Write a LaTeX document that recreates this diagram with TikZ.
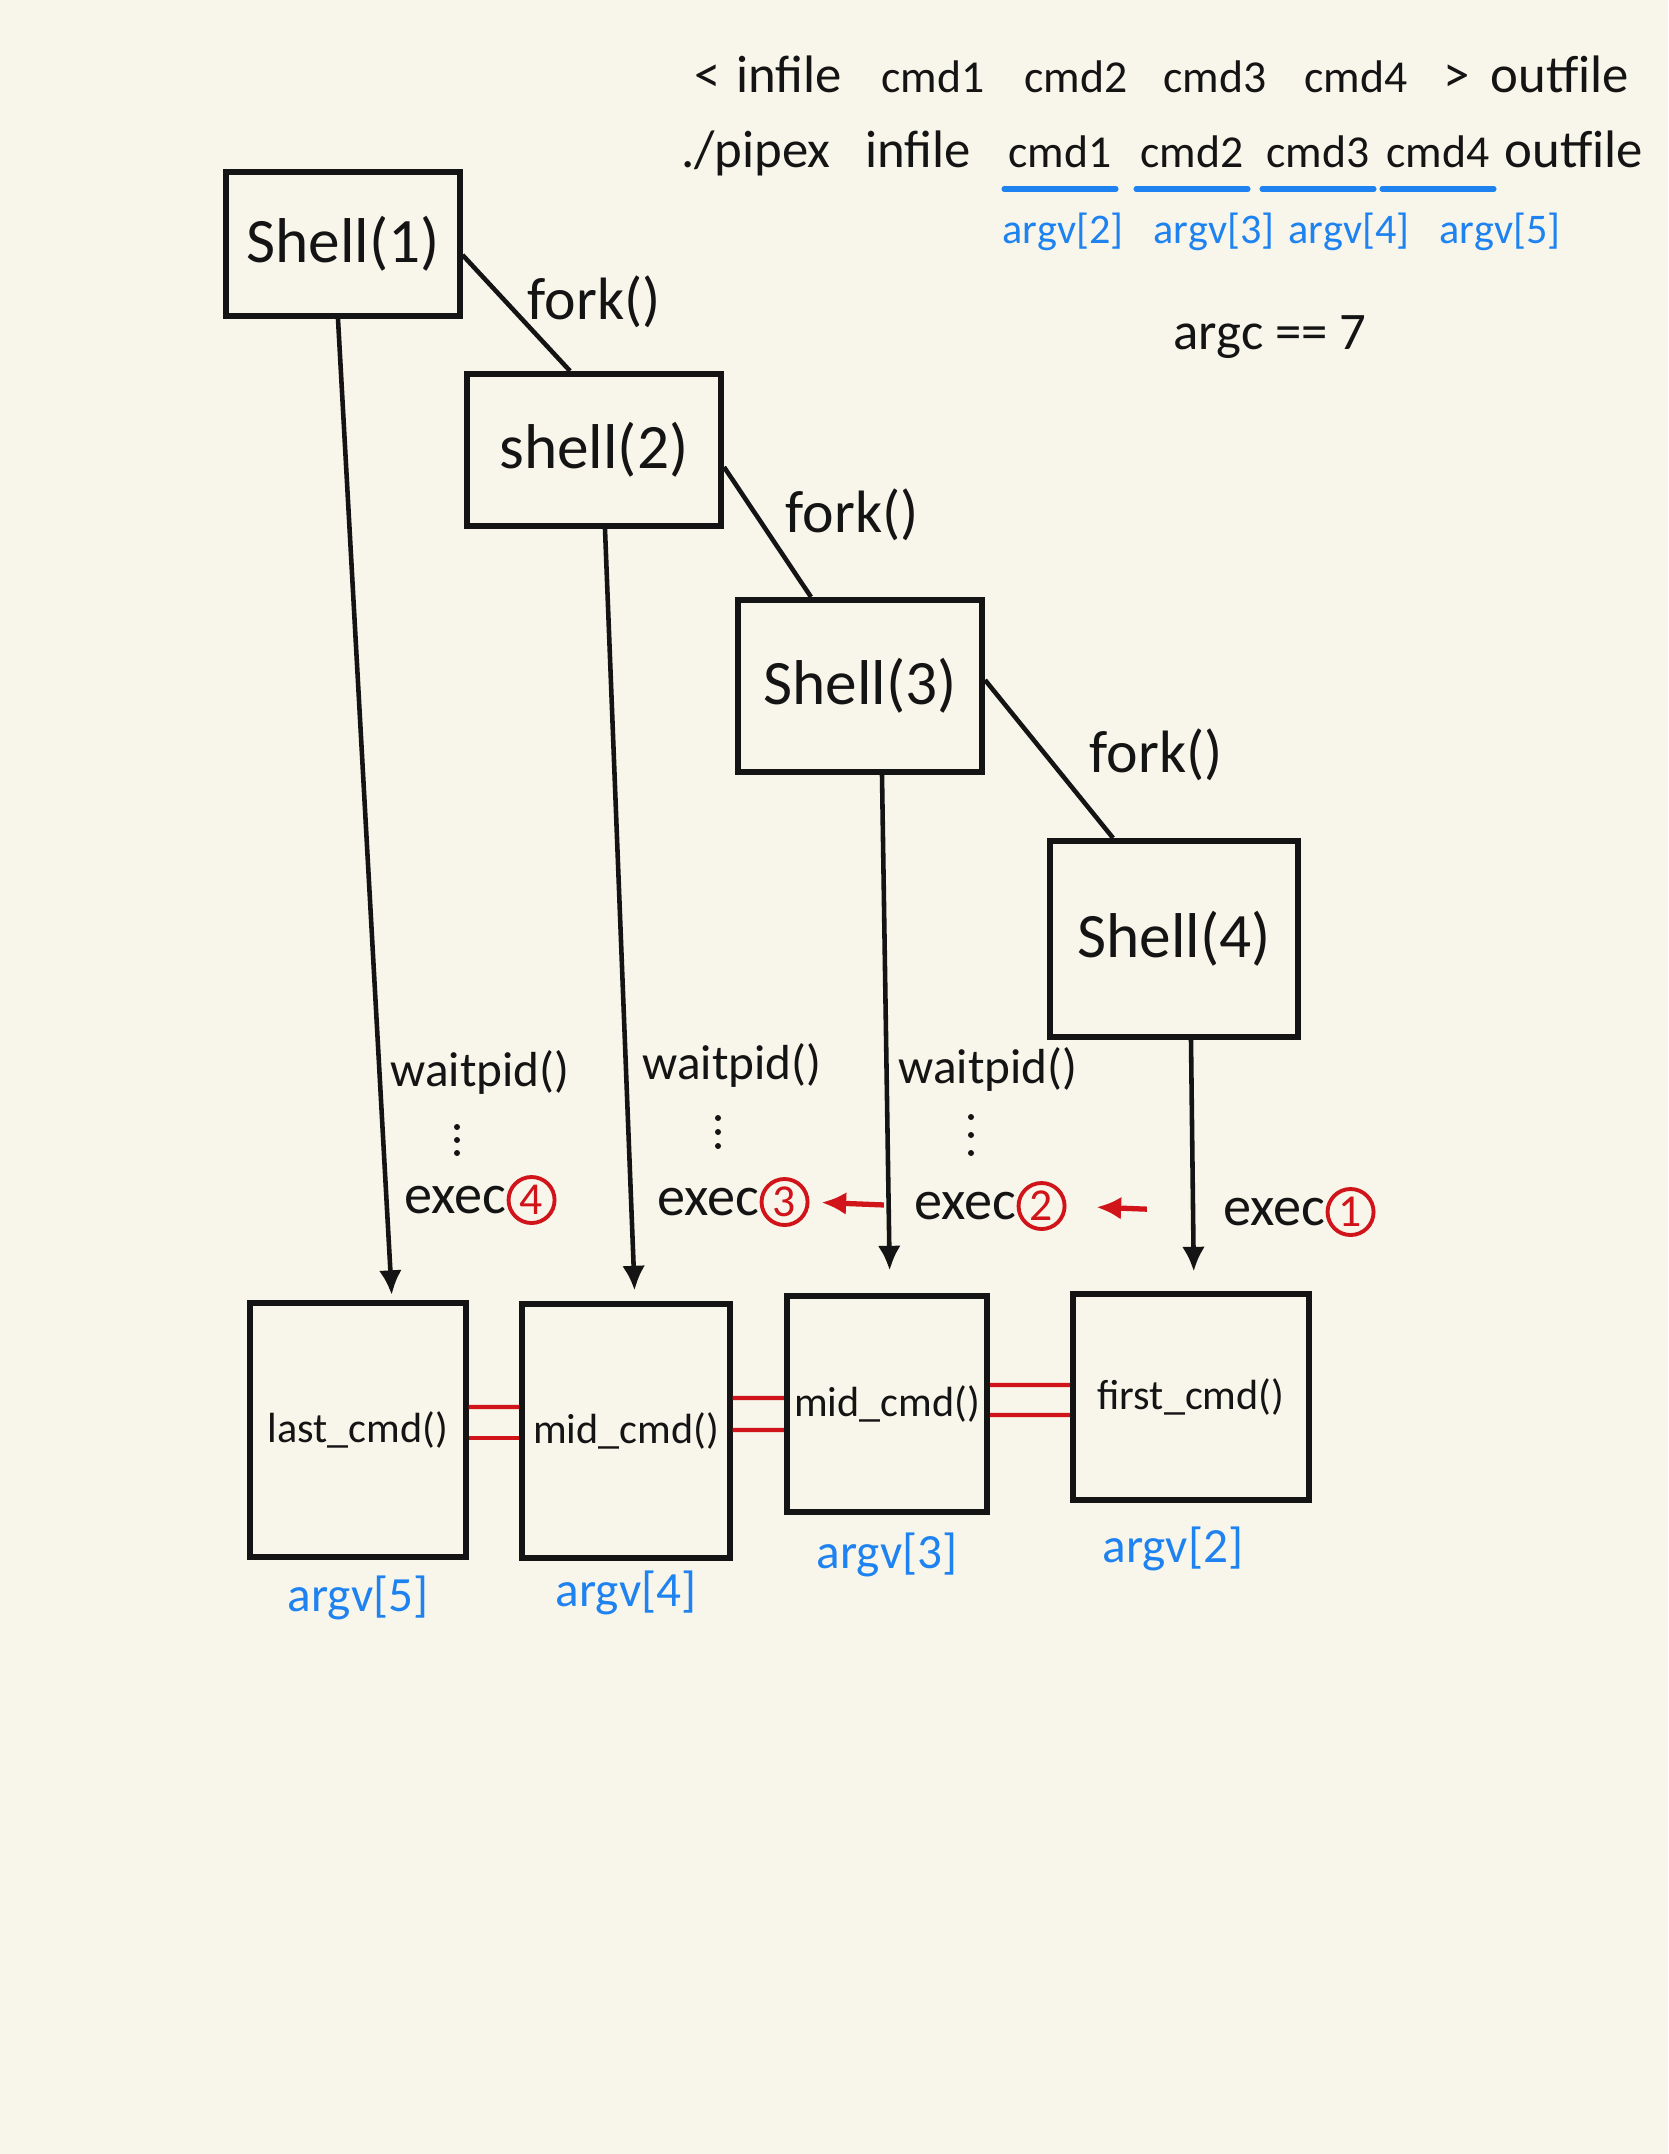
\documentclass[tikz,border=0pt]{standalone}
\usepackage{fontspec}
\setmainfont{Carlito}
\usepackage{tikz}
\usetikzlibrary{arrows.meta,calc,positioning}
\definecolor{bgpaper}{HTML}{F8F6EA}
\definecolor{blackpen}{HTML}{141414}
\definecolor{bluepen}{HTML}{1E82F0}
\definecolor{redpen}{HTML}{D0141A}
\tikzset{
	shellbox/.style={draw=blackpen,line width=1.7pt,text=blackpen,font=\fontsize{18}{20}\selectfont},
	cmdbox/.style={draw=blackpen,line width=1.7pt,text=blackpen,inner sep=0pt,font=\fontsize{12}{14}\selectfont},
	flow/.style={draw=blackpen,line width=1.3pt},
	pipe/.style={draw=redpen,line width=1.2pt},
	word/.style={text=blackpen,anchor=base,inner sep=1pt,font=\fontsize{15}{17}\selectfont},
	cmdword/.style={word,font=\fontsize{13}{15}\selectfont},
	argline/.style={draw=bluepen,line width=1.6pt,line cap=round},
	argword/.style={text=bluepen,inner sep=1pt,font=\fontsize{12}{14}\selectfont},
	arglabel/.style={text=bluepen,inner sep=1pt,font=\fontsize{14}{16}\selectfont},
	forklabel/.style={text=blackpen,font=\fontsize{17}{19}\selectfont},
	waitlabel/.style={text=blackpen,inner sep=1pt,font=\fontsize{14}{16}\selectfont},
	execlabel/.style={text=blackpen,inner sep=1pt,font=\fontsize{16}{18}\selectfont},
	execnum/.style={circle,draw=redpen,line width=1.1pt,text=redpen,inner sep=0.5pt,minimum size=0.46cm,font=\fontsize{13}{14}\selectfont},
	order/.style={draw=redpen,line width=1.5pt,->},
}

\begin{document}
\begin{tikzpicture}[x=0.01cm,y=0.01cm,>={Latex[length=7pt,width=6.5pt]}]
	\fill[bgpaper] (0,0) rectangle (1668,-2154);
	\useasboundingbox (0,0) rectangle (1668,-2154);
	\node[word] (a1) at (708,-92) {<};
	\node[word] (a2) at (789,-92) {infile};
	\node[cmdword] (a3) at (933,-92) {cmd1};
	\node[cmdword] (a4) at (1076,-92) {cmd2};
	\node[cmdword] (a5) at (1215,-92) {cmd3};
	\node[cmdword] (a6) at (1356,-92) {cmd4};
	\node[word] (a7) at (1457,-92) {>};
	\node[word] (a8) at (1560,-92) {outfile};
	\node[word] (b1) at (756,-167) {./pipex};
	\node[word] (b2) at (918,-167) {infile};
	\node[cmdword] (c1) at (1060,-167) {cmd1};
	\node[cmdword] (c2) at (1192,-167) {cmd2};
	\node[cmdword] (c3) at (1318,-167) {cmd3};
	\node[cmdword] (c4) at (1438,-167) {cmd4};
	\node[word] (b3) at (1574,-167) {outfile};
	\draw[argline] ([yshift=-0.22cm]c1.base west) -- ([yshift=-0.22cm]c1.base east);
	\draw[argline] ([yshift=-0.22cm]c2.base west) -- ([yshift=-0.22cm]c2.base east);
	\draw[argline] ([yshift=-0.22cm]c3.base west) -- ([yshift=-0.22cm]c3.base east);
	\draw[argline] ([yshift=-0.22cm]c4.base west) -- ([yshift=-0.22cm]c4.base east);
	\node[argword] (v2) at (1063,-232) {argv[2]};
	\node[argword] (v3) at (1214,-232) {argv[3]};
	\node[argword] (v4) at (1349,-232) {argv[4]};
	\node[argword] (v5) at (1500,-232) {argv[5]};
	\node[word,anchor=center] (argc) at (1270,-337) {argc == 7};

	\node[shellbox,minimum width=2.33cm,minimum height=1.44cm] (s1) at (343,-244) {Shell(1)};
	\node[shellbox,minimum width=2.54cm,minimum height=1.52cm] (s2) at (594,-450) {shell(2)};
	\node[shellbox,minimum width=2.44cm,minimum height=1.72cm] (s3) at (860,-686) {Shell(3)};
	\node[shellbox,minimum width=2.47cm,minimum height=1.96cm] (s4) at (1174,-939) {Shell(4)};
	\draw[flow] ([yshift=-0.11cm]s1.east) -- ($(s2.north)+(-24,0)$);
	\draw[flow] ([yshift=-0.17cm]s2.east) -- ($(s3.north)+(-49,0)$);
	\draw[flow] ([yshift=0.06cm]s3.east) -- ($(s4.north)+(-61,0)$);
	\node[forklabel] (f1) at (594,-302) {fork()};
	\node[forklabel] (f2) at (852,-515) {fork()};
	\node[forklabel] (f3) at (1156,-755) {fork()};

	\node[cmdbox,minimum width=2.15cm,minimum height=2.54cm] (lc) at (358,-1430) {last\_cmd()};
	\node[cmdbox,minimum width=2.07cm,minimum height=2.53cm] (mc1) at (626,-1431) {mid\_cmd()};
	\node[cmdbox,minimum width=2.00cm,minimum height=2.15cm] (mc2) at (887,-1404) {mid\_cmd()};
	\node[cmdbox,minimum width=2.36cm,minimum height=2.05cm] (fc) at (1191,-1397) {first\_cmd()};
	\draw[flow,->,shorten >=0.05cm] ($(s1.south)+(-5,0)$) -- ($(lc.north)+(34,0)$);
	\draw[flow,->,shorten >=0.11cm] ($(s2.south)+(11,0)$) -- ($(mc1.north)+(9,0)$);
	\draw[flow,->,shorten >=0.23cm] ($(s3.south)+(22,0)$) -- ($(mc2.north)+(3,0)$);
	\draw[flow,->,shorten >=0.2cm] ($(s4.south)+(17,0)$) -- ($(fc.north)+(3,0)$);

	\node[waitlabel] (w4) at (480,-1072) {waitpid()};
	\node[waitlabel] (w3) at (732,-1065) {waitpid()};
	\node[waitlabel] (w2) at (988,-1069) {waitpid()};
	\fill[blackpen] (457,-1127) circle (3) (457,-1140) circle (3) (457,-1153) circle (3);
	\fill[blackpen] (718,-1118) circle (3) (718,-1132) circle (3) (718,-1146) circle (3);
	\fill[blackpen] (971,-1117) circle (3) (971,-1135) circle (3) (971,-1153) circle (3);
	\node[execlabel] (e4) at (455,-1200) {exec};
	\node[execnum,right=-1pt of e4] (n4) {4};
	\node[execlabel] (e3) at (708,-1202) {exec};
	\node[execnum,right=-1pt of e3] (n3) {3};
	\node[execlabel] (e2) at (965,-1206) {exec};
	\node[execnum,right=-1pt of e2] (n2) {2};
	\node[execlabel] (e1) at (1274,-1212) {exec};
	\node[execnum,right=-1pt of e1] (n1) {1};
	\draw[order,shorten <=0.26cm,shorten >=0.12cm] (e2.west) -- (n3.east);
	\draw[order,shorten <=0.72cm,shorten >=0.3cm] (e1.west) -- (n2.east);

	\draw[pipe] ([yshift=0.23cm]lc.east) -- ([yshift=0.24cm]mc1.west);
	\draw[pipe] ([yshift=-0.08cm]lc.east) -- ([yshift=-0.07cm]mc1.west);
	\draw[pipe] ([yshift=0.33cm]mc1.east) -- ([yshift=0.06cm]mc2.west);
	\draw[pipe] ([yshift=0.01cm]mc1.east) -- ([yshift=-0.26cm]mc2.west);
	\draw[pipe] ([yshift=0.19cm]mc2.east) -- ([yshift=0.12cm]fc.west);
	\draw[pipe] ([yshift=-0.11cm]mc2.east) -- ([yshift=-0.18cm]fc.west);
	\node[arglabel,below=0.12cm of lc] (g5) {argv[5]};
	\node[arglabel,below=0.06cm of mc1] (g4) {argv[4]};
	\node[arglabel,below=0.14cm of mc2] (g3) {argv[3]};
	\node[arglabel,below=0.2cm of fc,xshift=-0.18cm] (g2) {argv[2]};
\end{tikzpicture}
\end{document}
